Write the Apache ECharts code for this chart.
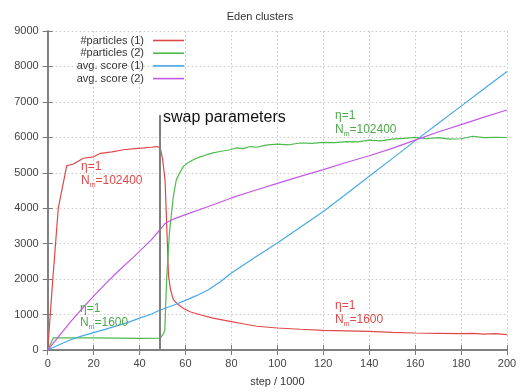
<!DOCTYPE html>
<html>
<head>
<meta charset="utf-8">
<script src="https://cdn.jsdelivr.net/npm/echarts@6/dist/echarts.min.js"></script>
<style>html,body{margin:0;padding:0;background:#fff;}#c{width:520px;height:392px;}</style>
</head>
<body>
<div id="c"></div>
<script>
// ---- data ----
const titleText = 'Eden clusters';
const xName = 'step / 1000';
const seriesNames = ['#particles (1)', '#particles (2)', 'avg. score (1)', 'avg. score (2)'];

const redX = [0, 2, 4.6, 8.3, 11, 15.5, 20, 23, 28, 33, 38, 42, 45, 47.5, 49, 50, 51.1, 52, 52.6, 53.5, 54.7, 56.5, 59, 62, 66.4, 72, 79.4, 85, 91, 100, 110, 120, 130, 140, 150, 160, 170, 180, 185, 190, 195, 200];
const redY = [0, 1800, 4000, 5200, 5240, 5410, 5450, 5550, 5590, 5650, 5680, 5700, 5720, 5740, 5700, 5400, 4800, 3200, 2100, 1700, 1420, 1300, 1180, 1080, 995, 900, 810, 740, 670, 620, 585, 555, 540, 525, 500, 480, 470, 460, 470, 450, 460, 435];

const greenX = [0, 2.4, 10, 20, 30, 40, 49, 50.3, 51, 51.8, 53, 54.7, 56, 57.5, 59.1, 61, 63.4, 66, 69.3, 72, 75, 79.4, 82, 85, 88, 91, 95, 100, 105, 110, 115, 120, 125, 130, 135, 140, 145, 150, 155, 160, 165, 170, 175, 180, 185, 190, 195, 200];
const greenY = [0, 340, 345, 340, 335, 330, 335, 450, 560, 2000, 3300, 4330, 4800, 5000, 5180, 5280, 5370, 5440, 5510, 5560, 5600, 5650, 5700, 5680, 5740, 5720, 5780, 5810, 5790, 5840, 5830, 5860, 5850, 5880, 5870, 5920, 5900, 5950, 5970, 6000, 5960, 5990, 5950, 5960, 6030, 5990, 6000, 5995];

const blueX = [0, 5, 10, 15, 20, 25, 30, 35, 40, 45, 49, 55, 60, 65, 70, 75, 80, 90, 100, 110, 120, 130, 140, 150, 160, 170, 180, 190, 200];
const blueY = [0, 150, 290, 400, 490, 580, 680, 780, 900, 1010, 1130, 1270, 1400, 1540, 1700, 1920, 2170, 2600, 3020, 3460, 3910, 4400, 4900, 5400, 5900, 6390, 6880, 7370, 7860];

const magX = [0, 5, 10, 15, 20, 25, 30, 37, 45, 49, 51, 53, 55, 60, 70, 80, 90, 100, 110, 120, 130, 140, 150, 160, 170, 180, 190, 200];
const magY = [0, 400, 800, 1170, 1520, 1860, 2180, 2600, 3100, 3400, 3560, 3640, 3700, 3820, 4050, 4290, 4500, 4700, 4900, 5090, 5290, 5480, 5690, 5920, 6150, 6360, 6570, 6770];

const swapStep = 49;
const swapTop = 6630;
const swapLabel = 'swap parameters';

const colors = ['#e04848', '#4cbb4c', '#48a8e8', '#c458e8'];
const annRed = '#dd4b4b';
const annGreen = '#4ea84e';

function pairs(xs, ys) { return xs.map((x, i) => [x, ys[i]]); }

const chart = echarts.init(document.getElementById('c'), null, {renderer: 'canvas'});

const frame = {lineStyle: {color: '#7a7a7a', width: 1.5}};
const gridLine = {show: true, lineStyle: {color: '#c8c8c8', type: [1.5, 2.5], width: 1}};
const font = 'Liberation Sans, Arial, sans-serif';

function seriesDef(i, data) {
  return {
    name: seriesNames[i], type: 'line', data: data, showSymbol: false, symbol: 'none',
    lineStyle: {color: colors[i], width: 1.2}, itemStyle: {color: colors[i]},
    animation: false, z: 3
  };
}

const legends = seriesNames.map((n, i) => ({
  data: [n], orient: 'vertical', align: 'right', right: 336, top: 35 + i * 12.7,
  itemWidth: 31, itemHeight: 8, itemGap: 0, padding: 0,
  icon: 'path://M0,4L31,4L31,5.6L0,5.6Z',
  textStyle: {fontSize: 11, color: '#333', fontFamily: font, padding: [0, 4, 0, 0]},
  selectedMode: false
}));

const series = [
  seriesDef(0, pairs(redX, redY)),
  seriesDef(1, pairs(greenX, greenY)),
  seriesDef(2, pairs(blueX, blueY)),
  seriesDef(3, pairs(magX, magY))
];
series[0].markLine = {
  silent: true, symbol: 'none', animation: false,
  lineStyle: {color: '#808080', width: 2, type: 'solid'},
  label: {show: false},
  data: [[{coord: [swapStep, 0]}, {coord: [swapStep, swapTop]}]]
};

function annText(x, y, color, val) {
  return [
    {type: 'text', left: x, top: y, z: 10, style: {text: 'η=1', fill: color, font: '12px ' + font}},
    {type: 'text', left: x, top: y + 14, z: 10, style: {
      text: '{a|N}{s|m}{a|=' + val + '}', fill: color,
      rich: {a: {fontSize: 12, fontFamily: font, fill: color, lineHeight: 14, verticalAlign: 'top'},
             s: {fontSize: 7, fontFamily: font, fill: color, lineHeight: 14, verticalAlign: 'top', padding: [7, 0, 0, 0]}}
    }}
  ];
}

const plain = v => String(v);

const option = {
  backgroundColor: '#fff',
  animation: false,
  title: {text: titleText, left: 'center', top: 6, textStyle: {fontSize: 11, fontWeight: 'normal', color: '#333', fontFamily: font}},
  legend: legends,
  grid: {left: 47.7, right: 13, top: 31, bottom: 42, containLabel: false},
  xAxis: [
    {type: 'value', min: 0, max: 200, interval: 20, name: xName, nameLocation: 'middle', nameGap: 26,
     nameTextStyle: {fontSize: 11, color: '#333', fontFamily: font},
     axisLine: frame, axisTick: {show: true, inside: true, length: 5, lineStyle: {color: '#7a7a7a'}},
     axisLabel: {fontSize: 11, color: '#444', margin: 8, fontFamily: font, formatter: plain}, splitLine: gridLine},
    {type: 'value', position: 'top', min: 0, max: 200, interval: 20,
     axisLine: frame, axisTick: {show: true, inside: true, length: 5, lineStyle: {color: '#7a7a7a'}},
     axisLabel: {show: false}, splitLine: {show: false}}
  ],
  yAxis: [
    {type: 'value', min: 0, max: 9000, interval: 1000,
     axisLine: frame, axisTick: {show: true, inside: true, length: 5, lineStyle: {color: '#7a7a7a'}},
     axisLabel: {fontSize: 11, color: '#444', margin: 9, fontFamily: font, formatter: plain}, splitLine: gridLine},
    {type: 'value', position: 'right', min: 0, max: 9000, interval: 1000,
     axisLine: frame, axisTick: {show: true, inside: true, length: 5, lineStyle: {color: '#7a7a7a'}},
     axisLabel: {show: false}, splitLine: {show: false}}
  ],
  series: series,
  graphic: [
    {type: 'text', left: 163, top: 110, z: 10, style: {text: swapLabel, fill: '#111', font: '16px ' + font}}
  ].concat(annText(81, 161, annRed, '102400'))
   .concat(annText(335, 110, annGreen, '102400'))
   .concat(annText(80, 303, annGreen, '1600'))
   .concat(annText(335, 300, annRed, '1600'))
};
chart.setOption(option);
</script>
</body>
</html>
